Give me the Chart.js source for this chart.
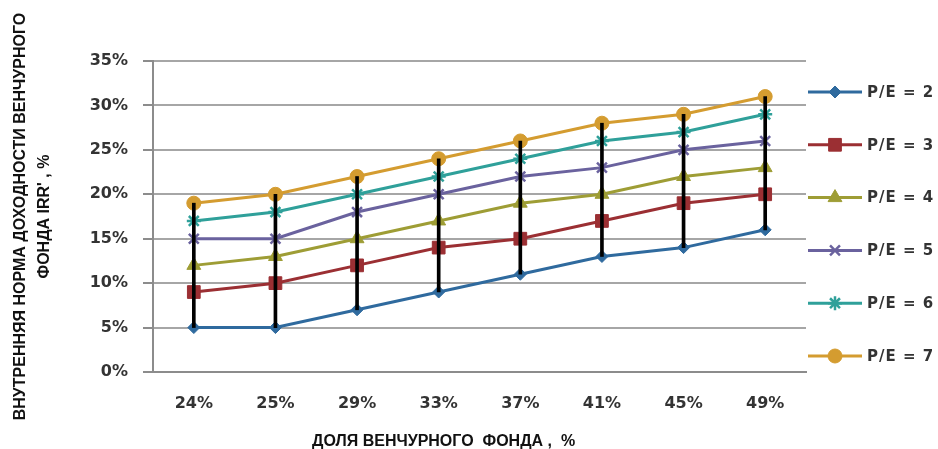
<!DOCTYPE html>
<html><head><meta charset="utf-8">
<script src="https://cdn.jsdelivr.net/npm/chart.js@4/dist/chart.umd.min.js"></script>
<style>html,body{margin:0;padding:0;background:#fff}#wrap{width:938px;height:449px}</style>
</head><body><div id="wrap"><canvas id="c" width="938" height="449"></canvas></div>
<script>
// ---- data ----
const categories = ['24%', '25%', '29%', '33%', '37%', '41%', '45%', '49%'];
const pe2 = [5, 5, 7, 9, 11, 13, 14, 16];
const pe3 = [9, 10, 12, 14, 15, 17, 19, 20];
const pe4 = [12, 13, 15, 17, 19, 20, 22, 23];
const pe5 = [15, 15, 18, 20, 22, 23, 25, 26];
const pe6 = [17, 18, 20, 22, 24, 26, 27, 29];
const pe7 = [19, 20, 22, 24, 26, 28, 29, 31];
const seriesLabels = ['P/E = 2', 'P/E = 3', 'P/E = 4', 'P/E = 5', 'P/E = 6', 'P/E = 7'];
const yMin = 0, yMax = 35, yStep = 5;
const xTitle = 'ДОЛЯ ВЕНЧУРНОГО  ФОНДА ,  %';
const yTitle = ['ВНУТРЕННЯЯ НОРМА ДОХОДНОСТИ ВЕНЧУРНОГО', "ФОНДА IRR' , %"];

// ---- styles ----
const seriesData = [pe2, pe3, pe4, pe5, pe6, pe7];
const colors = ['#2F6A9E', '#9B2F33', '#9E9D35', '#6A629E', '#2FA09A', '#D49C30'];
const styles = [
  {pointStyle: 'rectRot', radius: 6},
  {pointStyle: 'rect', radius: 9},
  {pointStyle: 'triangle', radius: 8},
  {pointStyle: 'crossRot', radius: 7},
  {pointStyle: 'star', radius: 7},
  {pointStyle: 'circle', radius: 7}
];

const lineSets = seriesData.map((d, i) => ({
  type: 'line',
  label: seriesLabels[i],
  data: d,
  borderColor: colors[i],
  backgroundColor: colors[i],
  borderWidth: 3,
  pointStyle: styles[i].pointStyle,
  pointRadius: styles[i].radius,
  pointBorderWidth: (styles[i].pointStyle === 'crossRot' || styles[i].pointStyle === 'star') ? 2.5 : 1,
  pointBackgroundColor: colors[i],
  pointBorderColor: colors[i],
  tension: 0,
  order: 1
}));

const hiLow = {
  type: 'bar',
  label: 'hilow',
  data: categories.map((_, k) => [
    Math.min(...seriesData.map(s => s[k])),
    Math.max(...seriesData.map(s => s[k]))
  ]),
  backgroundColor: '#000',
  borderWidth: 0,
  barThickness: 3,
  order: 0
};

const legendPlugin = {
  id: 'customLegend',
  afterDraw(chart) {
    const ctx = chart.ctx;
    const startY = 92, step = 52.8;
    chart.data.datasets.forEach((ds, i) => {
      if (ds.type !== 'line') return;
      const y = startY + (i - 1) * step;
      ctx.save();
      ctx.strokeStyle = ds.borderColor;
      ctx.lineWidth = 3;
      ctx.beginPath();
      ctx.moveTo(808, y);
      ctx.lineTo(862, y);
      ctx.stroke();
      ctx.fillStyle = ds.pointBackgroundColor;
      ctx.strokeStyle = ds.pointBorderColor;
      ctx.lineWidth = ds.pointBorderWidth;
      Chart.helpers.drawPoint(ctx, {pointStyle: ds.pointStyle, radius: ds.pointRadius, rotation: 0, borderWidth: ds.pointBorderWidth}, 835, y);
      ctx.fillStyle = '#333';
      ctx.font = 'bold 15px "DejaVu Sans"';
      ctx.letterSpacing = '1px';
      ctx.textAlign = 'left';
      ctx.textBaseline = 'middle';
      ctx.fillText(ds.label, 867, y + 1);
      ctx.restore();
    });
    // x axis title
    const a = chart.chartArea;
    ctx.save();
    ctx.fillStyle = '#111';
    ctx.font = 'bold 16px "Liberation Sans"';
    ctx.textAlign = 'center';
    ctx.textBaseline = 'middle';
    ctx.fillText(xTitle, a.left + (a.right - a.left) * 0.445, 442);
    ctx.restore();
  }
};

new Chart(document.getElementById('c'), {
  type: 'line',
  data: { labels: categories, datasets: [hiLow, ...lineSets] },
  options: {
    responsive: false,
    animation: false,
    devicePixelRatio: 1,
    layout: { padding: { top: 61, right: 132, bottom: 0, left: 0 } },
    plugins: { legend: { display: false }, tooltip: { enabled: false } },
    scales: {
      x: {
        offset: true,
        grid: { display: true, drawOnChartArea: false, drawTicks: false },
        border: { display: true, color: '#8c8c8c', width: 2 },
        ticks: { padding: 22, color: '#333', font: { family: 'DejaVu Sans', size: 16, weight: 'bold' } },
        afterFit(s) { s.height = 77; }
      },
      y: {
        min: yMin, max: yMax,
        grid: { color: '#a6a6a6', lineWidth: 2, tickLength: 10, tickColor: '#8c8c8c' },
        border: { display: true, color: '#8c8c8c', width: 2 },
        ticks: {
          stepSize: yStep, padding: 15, color: '#333',
          font: { family: 'DejaVu Sans', size: 16, weight: 'bold' },
          callback: v => v + '%'
        },
        title: {
          display: true, text: yTitle, color: '#111',
          font: { family: 'Liberation Sans', size: 16, weight: 'bold', lineHeight: '24px' },
          padding: { top: 9, bottom: 0 }
        },
        afterFit(s) { s.width = 153; }
      }
    }
  },
  plugins: [legendPlugin]
});
</script>
</body></html>
